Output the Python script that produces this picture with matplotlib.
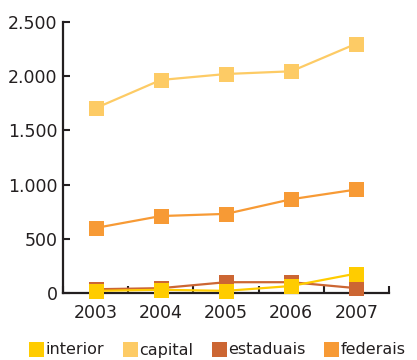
import matplotlib.pyplot as plt
import matplotlib.ticker as ticker
from matplotlib.lines import Line2D
import numpy as np

# data
years = ['2003', '2004', '2005', '2006', '2007']
interior = [20, 30, 20, 65, 180]
capital = [1705, 1965, 2020, 2045, 2300]
estaduais = [35, 45, 100, 100, 45]
federais = [600, 710, 730, 865, 955]

series_names = ['interior', 'capital', 'estaduais', 'federais']
series_values = [interior, capital, estaduais, federais]
colors = ['#FFCC00', '#FDCB65', '#CC6633', '#F79A35']

axis_col = '#231F20'
plt.rcParams['font.family'] = 'DejaVu Sans'

fig = plt.figure(figsize=(4.17, 3.6), dpi=100)
ax = fig.add_axes([0.151, 0.186, 0.782, 0.753])

x = np.arange(len(years))
# draw in reverse so interior ends up on top
for name, vals, col in reversed(list(zip(series_names, series_values, colors))):
    ax.plot(x, vals, color=col, lw=1.6, marker='s', ms=10.8,
            markeredgewidth=0, label=name, clip_on=False, zorder=3)

ax.set_xlim(-0.5, len(years) - 0.5)
ax.set_ylim(0, 2500)

# category boundaries as ticks, labels in between
ax.set_xticks(np.arange(-0.5, len(years), 1.0))
ax.set_xticklabels([])
ax.set_xticks(x, minor=True)
ax.set_xticklabels(years, minor=True, fontsize=12.5, color=axis_col)
ax.tick_params(axis='x', which='minor', length=0, pad=8)
ax.tick_params(axis='x', which='major', direction='in', length=5, width=1.5, color=axis_col)

ax.set_yticks(np.arange(0, 2501, 500))
ax.yaxis.set_major_formatter(ticker.FuncFormatter(lambda v, p: '{:,.0f}'.format(v).replace(',', '.')))
ax.tick_params(axis='y', direction='in', length=5, width=1.5, color=axis_col,
               labelsize=12.5, labelcolor=axis_col, pad=4)

for side in ['top', 'right']:
    ax.spines[side].set_visible(False)
for side in ['left', 'bottom']:
    ax.spines[side].set_linewidth(1.6)
    ax.spines[side].set_color(axis_col)
    ax.spines[side].set_zorder(2)

handles = [Line2D([], [], ls='none', marker='s', ms=10.8, color=c, markeredgewidth=0)
           for c in colors]
fig.legend(handles, series_names, loc='center', bbox_to_anchor=(0.5 + 10 / 417., 1 - 350 / 360.),
           ncol=4, frameon=False, fontsize=11.5, handlelength=0.6, handletextpad=0.3,
           columnspacing=1.3, borderaxespad=0, labelcolor=axis_col)

fig.savefig('out.png', dpi=100)
